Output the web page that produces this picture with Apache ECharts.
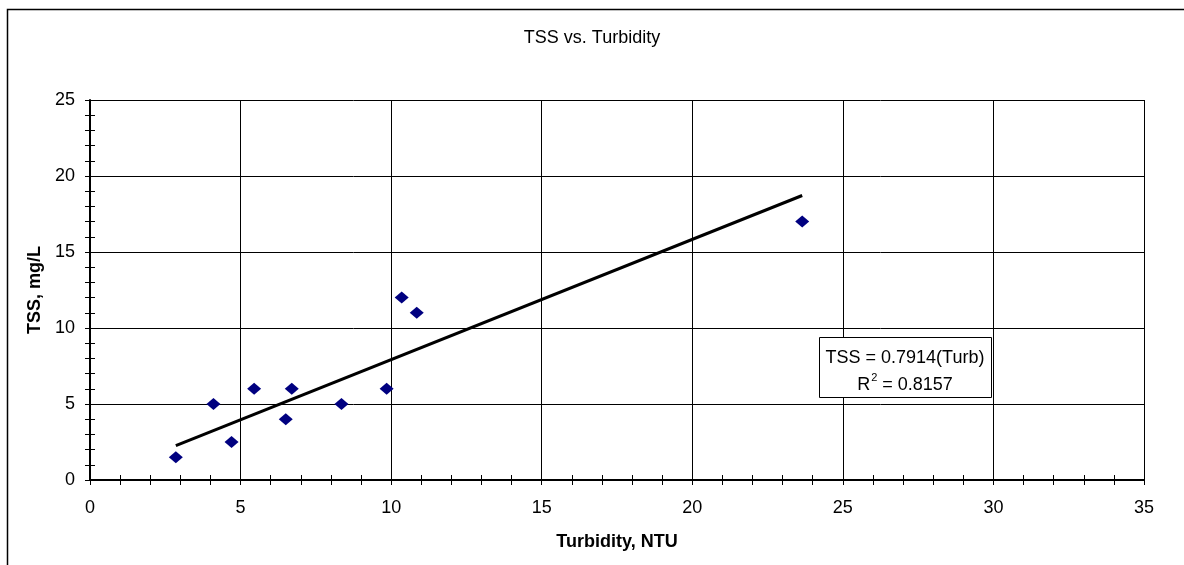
<!DOCTYPE html>
<html>
<head>
<meta charset="utf-8">
<script src="https://cdn.jsdelivr.net/npm/echarts@6/dist/echarts.min.js"></script>
<style>
html,body{margin:0;padding:0;background:#fff;}
#chart{width:1184px;height:565px;}
</style>
</head>
<body>
<div id="chart"></div>
<script>
// Data
const turbidity = [2.85, 4.1, 4.7, 5.45, 6.5, 6.7, 8.35, 9.85, 10.35, 10.85, 23.65];
const tss       = [1.5, 5, 2.5, 6, 4, 6, 5, 6, 12, 11, 17];
const slope = 0.7914;
const rSquared = 0.8157;
const xTicks = [0, 5, 10, 15, 20, 25, 30, 35];
const yTicks = [0, 5, 10, 15, 20, 25];

const points = turbidity.map((x, i) => [x, tss[i]]);
const xMin = Math.min(...turbidity), xMax = Math.max(...turbidity);
const trend = [[xMin, slope * xMin], [xMax, slope * xMax]];

const font = '"Liberation Sans", Arial, sans-serif';
const chart = echarts.init(document.getElementById('chart'));

const baseX = {
  type: 'value', min: xTicks[0], max: xTicks[xTicks.length - 1], interval: 5,
};
const baseY = {
  type: 'value', min: yTicks[0], max: yTicks[yTicks.length - 1], interval: 5,
};
const tickStyle = { color: '#000', width: 1 };

chart.setOption({
  animation: false,
  backgroundColor: '#fff',
  title: {
    text: 'TSS vs. Turbidity', left: 'center', top: 24,
    textStyle: { fontFamily: font, fontSize: 18, fontWeight: 'normal', color: '#000' }
  },
  grid: { left: 90, right: 40, top: 100, bottom: 85 },
  xAxis: [
    Object.assign({}, baseX, {
      name: 'Turbidity, NTU', nameLocation: 'middle', nameGap: 53,
      nameTextStyle: { fontFamily: font, fontSize: 18, fontWeight: 'bold', color: '#000' },
      axisLine: { show: true, onZero: false, lineStyle: { color: '#000', width: 2 } },
      axisTick: { show: true, length: 5, lineStyle: tickStyle },
      minorTick: { show: true, splitNumber: 5, length: 5, lineStyle: tickStyle },
      axisLabel: { fontFamily: font, fontSize: 18, color: '#000', margin: 19 },
      splitLine: { show: true, lineStyle: { color: '#000', width: 1 } }
    }),
    Object.assign({}, baseX, {
      position: 'bottom',
      axisLine: { show: false },
      axisTick: { show: true, inside: true, length: 5, lineStyle: tickStyle },
      minorTick: { show: true, splitNumber: 5, length: 5, lineStyle: tickStyle },
      axisLabel: { show: false },
      splitLine: { show: false }
    })
  ],
  yAxis: [
    Object.assign({}, baseY, {
      name: 'TSS, mg/L', nameLocation: 'middle', nameGap: 46, nameRotate: 90,
      nameTextStyle: { fontFamily: font, fontSize: 18, fontWeight: 'bold', color: '#000' },
      axisLine: { show: true, onZero: false, lineStyle: { color: '#000', width: 2 } },
      axisTick: { show: true, length: 5, lineStyle: tickStyle },
      minorTick: { show: true, splitNumber: 5, length: 5, lineStyle: tickStyle },
      axisLabel: { fontFamily: font, fontSize: 18, color: '#000', margin: 15, padding: [4, 0, 0, 0] },
      splitLine: { show: true, lineStyle: { color: '#000', width: 1 } }
    }),
    Object.assign({}, baseY, {
      position: 'left',
      axisLine: { show: false },
      axisTick: { show: true, inside: true, length: 5, lineStyle: tickStyle },
      minorTick: { show: true, splitNumber: 5, length: 5, lineStyle: tickStyle },
      axisLabel: { show: false },
      splitLine: { show: false }
    })
  ],
  series: [
    {
      type: 'line', data: trend, xAxisIndex: 0, yAxisIndex: 0,
      showSymbol: false, symbol: 'none',
      lineStyle: { color: '#000', width: 3 }, z: 3
    },
    {
      type: 'scatter', data: points, xAxisIndex: 0, yAxisIndex: 0,
      symbol: 'diamond', symbolSize: [14, 12],
      itemStyle: { color: '#000080', opacity: 1 }, z: 4
    }
  ],
  graphic: [
    {
      type: 'rect', left: 5, top: 7, z: -1,
      shape: { width: 1300, height: 700 },
      style: { fill: 'none', stroke: '#000', lineWidth: 1.5 }, silent: true
    },
    {
      type: 'rect', left: 819, top: 337, z: 100,
      shape: { width: 172, height: 60 },
      style: { fill: '#fff', stroke: '#000', lineWidth: 1 }
    },
    {
      type: 'text', z: 101, position: [905, 358],
      style: { text: 'TSS = ' + slope.toFixed(4) + '(Turb)', font: '18px ' + font,
               fill: '#000', align: 'center', verticalAlign: 'middle' }
    },
    {
      type: 'text', z: 101, position: [905, 383],
      style: {
        text: '{b|R}{s|2}{b| = ' + rSquared.toFixed(4) + '}',
        align: 'center', verticalAlign: 'middle',
        rich: {
          b: { font: '18px ' + font, fill: '#000', verticalAlign: 'bottom', lineHeight: 22 },
          s: { font: '11px ' + font, fill: '#000', verticalAlign: 'top', lineHeight: 22, padding: [0, 0, 10, 1] }
        }
      }
    }
  ]
});
</script>
</body>
</html>
